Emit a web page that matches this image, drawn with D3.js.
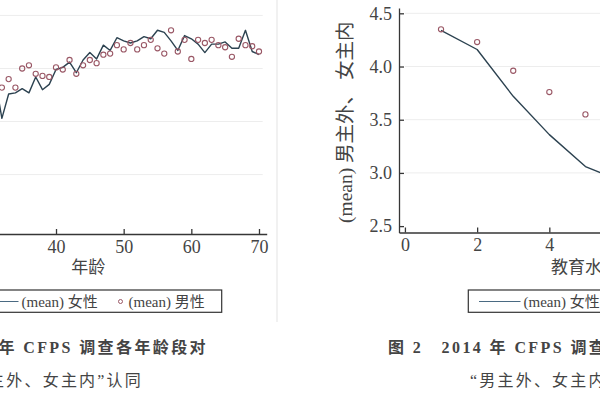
<!DOCTYPE html>
<html>
<head>
<meta charset="utf-8">
<script src="https://cdn.jsdelivr.net/npm/d3@7"></script>
<style>
  body { margin: 0; background: #fff; }
  svg { display: block; }
  text { fill: #444; }
</style>
</head>
<body>
<svg id="chart" width="600" height="400"></svg>
<script>
// figure 1: mean by age
const ages = [31, 32, 33, 34, 35, 36, 37, 38, 39, 40, 41, 42, 43, 44, 45, 46, 47, 48, 49, 50,
              51, 52, 53, 54, 55, 56, 57, 58, 59, 60, 61, 62, 63, 64, 65, 66, 67, 68, 69, 70];
const femaleByAge = [3.90, 3.53, 3.76, 3.77, 3.81, 3.77, 3.92, 3.80, 3.85, 3.99,
                     4.01, 4.06, 3.96, 4.08, 4.15, 4.09, 4.22, 4.17, 4.29, 4.26,
                     4.24, 4.26, 4.30, 4.28, 4.36, 4.34, 4.26, 4.17, 4.31, 4.28,
                     4.23, 4.15, 4.23, 4.23, 4.25, 4.19, 4.19, 4.36, 4.16, 4.13];
const maleAges = ages.slice(1);
const maleByAge = [3.82, 3.90, 3.82, 4.00, 4.03, 3.95, 3.93, 3.92, 4.01,
                   3.99, 4.08, 3.95, 4.03, 4.08, 4.05, 4.13, 4.14, 4.22, 4.18,
                   4.24, 4.18, 4.22, 4.27, 4.19, 4.14, 4.36, 4.16, 4.27, 4.09,
                   4.27, 4.24, 4.27, 4.22, 4.20, 4.11, 4.28, 4.22, 4.21, 4.16];
const ageTicks = [20, 30, 40, 50, 60, 70];

// figure 2: mean by education level
const eduLevels = [1, 2, 3, 4, 5, 6];
const femaleByEdu = [4.34, 4.16, 3.72, 3.36, 3.06, 2.92];
const maleEduLevels = [1, 2, 3, 4, 5];
const maleByEdu = [4.35, 4.23, 3.96, 3.76, 3.55];
const eduTicks = [0, 2, 4, 6, 8, 10];

const yTicks = [2.5, 3.0, 3.5, 4.0, 4.5];
const gridTicks = [3.0, 3.5, 4.0, 4.5];

const lineColor = '#2c4250';
const dotColor = '#9a5866';
const axisColor = '#363636';
const latinCjk = '"Liberation Serif", "Noto Sans CJK SC", serif';

const svg = d3.select('#chart');

// faint edge of the left figure
svg.append('line')
    .attr('x1', 277).attr('x2', 277).attr('y1', 0).attr('y2', 322)
    .attr('stroke', '#f1f1f1').attr('stroke-width', 2);

const drawPanel = (cfg) => {
    const g = svg.append('g');
    const x = d3.scaleLinear().domain(cfg.xDomain).range(cfg.xRange);
    const y = d3.scaleLinear().domain(cfg.yDomain).range(cfg.yRange);

    // gridlines
    g.append('g').selectAll('line')
        .data(gridTicks)
        .enter().append('line')
        .attr('x1', cfg.xRange[0] + 6).attr('x2', cfg.xRange[1] - 4)
        .attr('y1', d => y(d)).attr('y2', d => y(d))
        .attr('stroke', '#ededed').attr('stroke-width', 1);

    // x axis
    const xAxis = g.append('g')
        .attr('transform', `translate(0,${cfg.yRange[0]})`)
        .call(d3.axisBottom(x).tickValues(cfg.xTicks).tickSizeInner(-5).tickSizeOuter(0).tickPadding(6));
    xAxis.selectAll('path, line').attr('stroke', axisColor).attr('stroke-width', 1.3);
    xAxis.selectAll('text')
        .style('font-family', latinCjk).style('font-size', '18px').attr('fill', '#444');

    if (cfg.showY) {
        const yAxis = g.append('g')
            .attr('transform', `translate(${cfg.xRange[0]},0)`)
            .call(d3.axisLeft(y).tickValues(yTicks).tickFormat(d3.format('.1f'))
                .tickSizeInner(-5).tickSizeOuter(0).tickPadding(7));
        yAxis.selectAll('path, line').attr('stroke', axisColor).attr('stroke-width', 1.3);
        yAxis.selectAll('text')
            .style('font-family', latinCjk).style('font-size', '18px').attr('fill', '#444');

        g.append('text')
            .attr('transform', `translate(${cfg.yTitleX},${(cfg.yRange[0] + cfg.yRange[1]) / 2 + 2}) rotate(-90)`)
            .attr('text-anchor', 'middle')
            .attr('dominant-baseline', 'central')
            .style('font-family', latinCjk).style('font-size', '19.5px')
            .text('(mean) 男主外、 女主内');
    }

    // x title
    g.append('text')
        .attr('x', (cfg.xRange[0] + cfg.xRange[1]) / 2)
        .attr('y', 273)
        .attr('text-anchor', 'middle')
        .style('font-family', latinCjk).style('font-size', '17px')
        .text(cfg.xTitle);

    // female line
    const line = d3.line()
        .x((d, i) => x(cfg.lineX[i]))
        .y(d => y(d));
    g.append('path')
        .datum(cfg.lineY)
        .attr('fill', 'none')
        .attr('stroke', lineColor)
        .attr('stroke-width', 1.4)
        .attr('stroke-linejoin', 'round')
        .attr('d', line);

    // male markers
    g.selectAll('circle.male')
        .data(cfg.dotY)
        .enter().append('circle')
        .attr('class', 'male')
        .attr('cx', (d, i) => x(cfg.dotX[i]))
        .attr('cy', d => y(d))
        .attr('r', 2.6)
        .attr('fill', 'none')
        .attr('stroke', dotColor)
        .attr('stroke-width', 1.1);

    // legend
    const lg = g.append('g');
    lg.append('rect')
        .attr('x', cfg.legend.x0).attr('y', 290)
        .attr('width', cfg.legend.x1 - cfg.legend.x0).attr('height', 22.3)
        .attr('fill', 'none').attr('stroke', '#333').attr('stroke-width', 1.2);
    lg.append('line')
        .attr('x1', cfg.legend.lineX0).attr('x2', cfg.legend.lineX1)
        .attr('y1', 301.5).attr('y2', 301.5)
        .attr('stroke', '#4a6a82').attr('stroke-width', 1.2);
    lg.append('text')
        .attr('x', cfg.legend.lineX1 + 3).attr('y', 306.5)
        .style('font-family', latinCjk).style('font-size', '15px')
        .text('(mean) 女性');
    lg.append('circle')
        .attr('cx', cfg.legend.lineX1 + 102).attr('cy', 301.5).attr('r', 2)
        .attr('fill', 'none').attr('stroke', dotColor).attr('stroke-width', 1);
    lg.append('text')
        .attr('x', cfg.legend.lineX1 + 110).attr('y', 306.5)
        .style('font-family', latinCjk).style('font-size', '15px')
        .text('(mean) 男性');

    // caption
    const cap = g.append('g').style('font-family', latinCjk).style('font-size', '16px');
    cap.append('text')
        .attr('x', cfg.cap.x1).attr('y', 353)
        .attr('text-anchor', cfg.cap.anchor)
        .attr('font-weight', 'bold')
        .style('letter-spacing', '2.4px')
        .attr('fill', '#2a2a2a')
        .text(cfg.cap.line1);
    cap.append('text')
        .attr('x', cfg.cap.x2).attr('y', 386)
        .attr('text-anchor', cfg.cap.anchor)
        .style('letter-spacing', '2.2px')
        .attr('fill', '#2a2a2a')
        .text('“男主外、女主内”认同');
};

drawPanel({
    xDomain: [18.42, 71.14], xRange: [-90, 266.7],
    yDomain: [2.44, 4.57], yRange: [234, 8],
    xTicks: ageTicks, showY: false,
    xTitle: '年龄',
    lineX: ages, lineY: femaleByAge,
    dotX: maleAges, dotY: maleByAge,
    legend: { x0: -60, x1: 221.7, lineX0: -20, lineX1: 18.5 },
    cap: { anchor: 'end', x1: 208, x2: 143, line1: '图 1　2014 年 CFPS 调查各年龄段对' }
});

drawPanel({
    xDomain: [-0.164, 10.14], xRange: [399, 771],
    yDomain: [2.44, 4.55], yRange: [232.5, 8],
    xTicks: eduTicks, showY: true, yTitleX: 345,
    xTitle: '教育水平',
    lineX: eduLevels, lineY: femaleByEdu,
    dotX: maleEduLevels, dotY: maleByEdu,
    legend: { x0: 468.3, x1: 760, lineX0: 479, lineX1: 520.5 },
    cap: { anchor: 'start', x1: 388, x2: 470, line1: '图 2　2014 年 CFPS 调查各教育水平对' }
});
</script>
</body>
</html>
